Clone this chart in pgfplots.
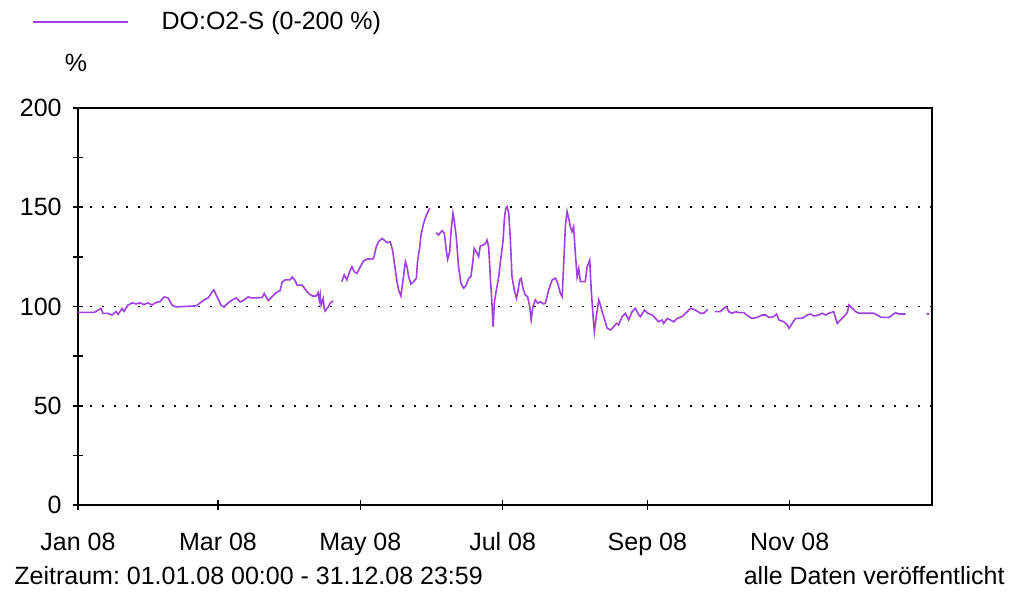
\documentclass[border=0pt]{standalone}
\usepackage{pgfplots}
\pgfplotsset{compat=1.18}
\usepackage{fontspec}
\setmainfont{Liberation Sans}
\definecolor{doline}{RGB}{160,64,224}
\newcommand{\lbl}{\fontsize{12.5}{15}\selectfont\frenchspacing}
\begin{document}
\frenchspacing
\begin{tikzpicture}
\useasboundingbox (-39pt,-43.5pt) rectangle (466.5pt,252.5pt);
\begin{axis}[
  at={(0pt,0pt)}, anchor=south west,
  scale only axis, width=427pt, height=198.5pt,
  xmin=0, xmax=366, ymin=0, ymax=200,
  axis line style={black, line width=0.8pt},
  tick align=center, major tick length=5pt, minor tick length=5pt,
  tick style={black, line width=0.8pt},
  xtick pos=lower, ytick pos=left,
  ytick={0,50,100,150,200}, minor y tick num=1,
  xtick={0,60,121,182,244,305},
  xticklabels={Jan 08, Mar 08, May 08, Jul 08, Sep 08, Nov 08},
  ymajorgrids, grid style={black, line width=0.9pt, dash pattern=on 0.9pt off 5.1pt},
  tick label style={font=\lbl},
  /pgf/number format/assume math mode=true,
  xticklabel style={anchor=base, inner sep=0pt, yshift=-20.5pt},
  yticklabel style={anchor=east, inner sep=0pt, xshift=-5.5pt},
  unbounded coords=jump,
  legend style={draw=none, fill=none, at={(-0.0539,1.2166)}, anchor=west,
    inner sep=0pt, outer sep=0pt, nodes={inner sep=0pt, font=\lbl},
    /tikz/every odd column/.style={column sep=16.5pt}},
  legend image code/.code={\draw[#1] (0pt,0pt) -- (47.5pt,0pt);},
]
\addplot[doline, line width=0.8pt] coordinates {
(0,97) (6.9,97) (9.9,99) (10.7,96.5) (12.9,96.5) (14.6,95.7) (16.3,97.5) (17.2,96)
(18.9,99) (19.7,97.5) (21.4,100.7) (23.2,101.8) (24.9,101.3) (26.6,101.8) (28.3,101)
(30.0,101.8) (31.7,100.8) (33.5,102) (35.2,102.5) (36.9,104.8) (38.6,104.3) (40.3,100.7)
(42.0,99.8) (50.6,100.3) (52.3,101.8) (54.0,103.3) (55.8,104.3) (57.5,107.3) (58.3,108.3)
(59.6,104.8) (61.3,100.7) (62.6,99.7) (64.3,101.8) (66.1,103.3) (67.8,104.3) (69.5,102.3)
(71.2,103.3) (72.9,104.8) (74.6,104.3) (78.9,104.5) (79.8,106.5) (81.5,103) (84.9,107)
(86.6,108) (87.5,112.3) (88.8,113.4) (90.9,113.4) (91.8,114.9) (93.1,113) (93.9,110.8)
(96.1,110.8) (97.8,108) (99.5,106) (100.4,105.3) (102.1,105.3) (102.9,107) (103.4,103)
(103.8,106) (104.2,100.7) (105.1,104) (105.5,99) (105.9,97.7) (107.2,99.7) (108.1,101.8)
(109.4,102.8)
(111,nan)
(113.0,112.5) (114.1,115.9) (115.2,113.4) (116.4,117.5) (117.4,120) (118.4,117.5)
(119.5,116.7) (121.0,120) (122.4,123) (124.1,124) (126.0,123.8) (126.7,124.3) (127.8,130)
(128.8,132.6) (130.3,134.3) (131.2,133.5) (132.4,132.2) (133.8,132.6) (134.8,128.5)
(136.0,118.4) (136.7,112.5) (137.4,108.3) (138.4,105.3) (139.3,113.4) (140.3,122.6)
(141.0,120) (141.7,115) (142.7,111.3) (143.8,112.5) (145.0,114.2) (145.5,122.6)
(146.4,129.3) (147.0,136) (148.1,141.9) (149.3,146) (150.7,149.5)
(152,nan)
(153.5,137.2) (154.5,136) (156.0,138.2) (157.0,136.9) (157.8,128.5) (158.4,123.8)
(159.3,127.6) (159.8,136.9) (160.7,147) (161.3,142.7) (162.1,135.2) (163.1,120)
(164.1,111.7) (165.3,109.2) (166.4,110.8) (167.4,114.2) (168.4,115) (169.3,123.4)
(169.8,129.3) (170.7,127.6) (171.7,125.1) (172.4,130.5) (173.6,131) (174.6,131.8)
(175.3,133.5) (176.0,130) (176.7,115) (177.4,101.6) (177.9,89.8) (178.4,101.6)
(179.3,108.3) (180.3,115) (181.3,125.1) (182.2,133.5) (182.7,143.6) (183.3,149.5)
(183.9,150.3) (184.6,147) (185.3,133.5) (186.0,115) (187.0,108.3) (187.9,104.1)
(188.4,106.7) (189.3,113.4) (189.9,114.2) (190.7,109.2) (191.7,105.8) (192.7,104.9)
(193.6,99.9) (194.2,93.2) (195.0,99.9) (196.0,103.3) (197.0,101.6) (198.1,102.4)
(199.6,101.3) (200.3,101.6) (201.7,108.3) (203.2,113.4) (204.6,114.2) (205.6,111.7)
(206.7,106.7) (207.5,104.9) (208.1,120) (208.9,141) (209.6,147.8) (210.3,144.4)
(211.0,140.2) (211.7,137.7) (212.4,140.2) (213.2,125.9) (213.9,115) (214.6,119.2)
(215.3,112.5) (217.4,112.5) (218.2,120) (219.3,123.4) (219.9,109.2) (220.8,94)
(221.3,87.3) (222.2,95.7) (223.2,103.3) (223.9,100.8) (224.6,97.4) (225.3,94.9)
(226.8,89) (228.2,88.2) (229.6,89.8) (230.8,91.5) (231.7,90.7) (233.2,94.9) (234.6,96.6)
(236.0,93.2) (237.5,97.5) (238.9,99.1) (239.9,96.6) (241.0,94.9) (242.8,98.2)
(244.2,96.6) (246.1,95.7) (247.5,94) (248.9,92.3) (250.3,93.2) (251.0,91.5) (252.5,94)
(253.9,93.2) (255.3,92.3) (256.8,94) (258.9,94.9) (261.1,97.4) (262.5,99.1) (264.6,98.2)
(266.8,96.6) (268.2,96.6) (269.9,98.6)
(271,nan)
(272.9,97.4) (275.3,97.4) (276.7,99.1) (277.9,99.9) (278.9,97.4) (280.4,96.6)
(281.8,97.4) (283.2,96.9) (285.3,96.9) (287.5,94.9) (288.9,94) (291.1,94.5) (293.2,95.7)
(294.7,95.7) (296.1,94.5) (298.2,94.9) (299.4,96.2) (300.4,93.2) (302.5,92.3)
(304.0,90.7) (304.7,89) (306.1,91.5) (307.5,94) (309.7,94) (311.1,94.5) (312.5,95.7)
(313.9,96.2) (315.4,95.2) (317.5,95.7) (318.9,96.6) (320.4,95.7) (321.8,96.6)
(323.9,97.4) (324.7,94) (325.4,91.5) (326.8,93.2) (328.2,94.9) (329.7,96.9) (330.4,100.8)
(331.8,99.1) (333.3,97.4) (334.7,96.6) (341.1,96.6) (342.6,95.7) (344.2,94.5)
(347.6,94.5) (349.0,95.7) (350.4,96.9) (351.8,96.2) (354.7,96.2)
(358,nan)
(363.7,96.2) (364.6,96.2)
};
\addlegendentry{DO:O2-S (0-200 \%)}
\end{axis}
\node[font=\lbl, inner sep=0pt] at (-1pt,221pt) {\%};
\node[font=\lbl, inner sep=0pt, anchor=west] at (-32pt,-35.5pt) {Zeitraum: 01.01.08 00:00 - 31.12.08 23:59};
\node[font=\lbl, inner sep=0pt, anchor=east] at (463.5pt,-35.5pt) {alle Daten veröffentlicht};
\end{tikzpicture}
\end{document}
